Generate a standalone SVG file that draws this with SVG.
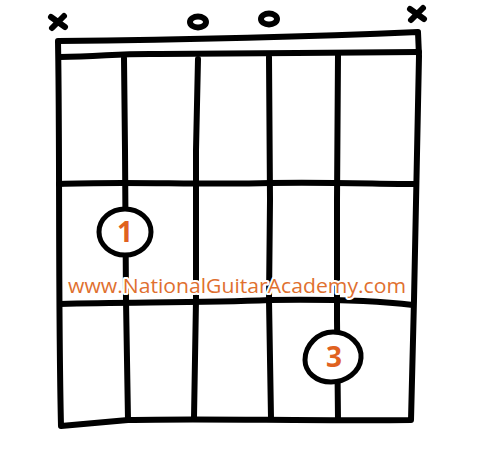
<svg xmlns="http://www.w3.org/2000/svg" width="479" height="462" viewBox="0 0 479 462">
<style>
.ln{fill:none;stroke:#000;stroke-width:6;stroke-linecap:round;stroke-linejoin:round}
.mk{fill:none;stroke:#000;stroke-width:6;stroke-linecap:round}
.fg{fill:#fff;stroke:#000;stroke-width:5}
.num{font-family:"Open Sans","Liberation Sans",sans-serif;font-size:28px;font-weight:bold;fill:#e0621f;text-anchor:middle}
.url{font-family:"Open Sans","Liberation Sans",sans-serif;font-size:20px;fill:#e0702f;stroke:#fff;stroke-width:4;paint-order:stroke;stroke-linejoin:round}
</style>
<rect width="479" height="462" fill="#fff"/>
<g id="markers">
<g id="mute6"><path class="mk" d="M51,17 L65,27 M64,16 L52,28"/></g>
<g id="open3"><ellipse class="mk" cx="198" cy="22" rx="8" ry="5.5"/></g>
<g id="open2"><ellipse class="mk" cx="269" cy="19" rx="8" ry="5.5"/></g>
<g id="mute1"><path class="mk" d="M410,9 L424,19 M423,8 L411,20"/></g>
</g>
<g id="connectors">
<path id="frame" class="ln" d="M58,41 C150,40 300,37 418,32 L419,56 L414,300 L411,420 C300,421 200,418 128,420 L61,426 C58,300 60,150 58,41 Z"/>
<path id="nut" class="ln" d="M60,57 C100,57 120,53 160,54 C250,54 330,52 419,52"/>
<path id="fret1" class="ln" d="M59,184 C120,181 200,185 270,183 C330,182 380,184 416,184"/>
<path id="fret2" class="ln" d="M60,304 C130,302 200,303 270,300 C340,299 380,301 413,305"/>
<path id="s5" class="ln" d="M124,58 L125,150 L126,300 L128,420"/>
<path id="s4" class="ln" d="M198,59 L196,150 L196,300 L194,418"/>
<path id="s3" class="ln" d="M269,57 L270,200 L269,300 L271,418"/>
<path id="s2" class="ln" d="M338,55 L337,200 L337,320 L338,420"/>
</g>
<g id="watermark"><text class="url" x="68" y="293" textLength="338" lengthAdjust="spacingAndGlyphs">www.NationalGuitarAcademy.com</text></g>
<g id="finger1"><ellipse class="fg" cx="125" cy="232" rx="26" ry="23"/><text class="num" x="125" y="242">1</text></g>
<g id="finger3"><path class="fg" d="M333,332 C350,332 362,345 361,358 C360,372 346,382 331,382 C316,382 305,372 305,360 C305,345 318,332 333,332 Z"/><text class="num" x="334" y="367">3</text></g>
</svg>
